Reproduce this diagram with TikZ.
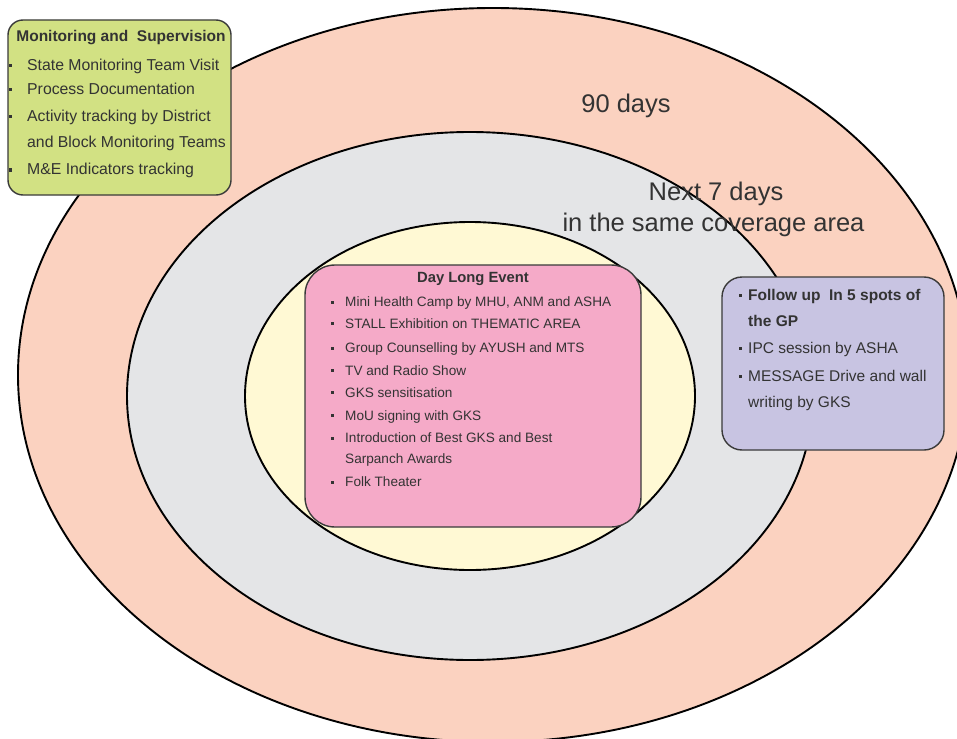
\documentclass[tikz,border=0pt]{standalone}
\usepackage{fontspec}
\setmainfont{Liberation Sans}
\definecolor{outerc}{HTML}{FBD2C0}
\definecolor{midc}{HTML}{E4E5E7}
\definecolor{innerc}{HTML}{FFF9D4}
\definecolor{greenc}{HTML}{D2E183}
\definecolor{pinkc}{HTML}{F5AAC8}
\definecolor{purplec}{HTML}{C8C4E2}
\definecolor{txt}{HTML}{333333}
\definecolor{edge}{HTML}{3A3A3A}
\tikzset{
  ring/.style={draw=black, line width=1.9pt},
  panel/.style={draw=edge, line width=1.4pt, inner sep=0pt},
  item/.style={inner sep=0pt, anchor=base west, text=txt},
  gtext/.style={item, font=\fontsize{15.8}{18}\selectfont},
  ptext/.style={item, font=\fontsize{13.6}{16}\selectfont},
  vtext/.style={item, font=\fontsize{15.5}{18}\selectfont},
  bigtext/.style={inner sep=0pt, anchor=base, text=txt, font=\fontsize{25.5}{30}\selectfont},
  dot/.style={fill=txt},
}
\begin{document}
\begin{tikzpicture}[x=1pt,y=-1pt]
\useasboundingbox (0,0) rectangle (957,738);
\clip (0,0) rectangle (957,738);
\fill[white] (0,0) rectangle (957,738);
% rings
\filldraw[ring, fill=outerc] (493,375) ellipse [x radius=475pt, y radius=367pt];
\filldraw[ring, fill=midc] (470,396) ellipse [x radius=343pt, y radius=264pt];
\filldraw[ring, fill=innerc] (470,396) ellipse [x radius=225pt, y radius=174pt];
% ring labels
\node[bigtext] (d90) at (626,113) {90 days};
\node[bigtext] (d7a) at (716,200) {Next 7 days};
\node[bigtext] (d7b) at (713.5,231) {in the same coverage area};
% green panel
\node[panel, fill=greenc, rounded corners=15pt, minimum width=223pt, minimum height=175pt] (mon) at (119.5,107.5) {};
\node[inner sep=0pt, anchor=base, text=txt, font=\bfseries\fontsize{15.5}{18}\selectfont] (mont) at (121,42) {Monitoring and\ \ Supervision};
\node[gtext] (m1) at (27,71) {State Monitoring Team Visit};
\node[gtext] (m2) at (27,95) {Process Documentation};
\node[gtext] (m3) at (27,122) {Activity tracking by District};
\node[gtext] (m4) at (27,148) {and Block Monitoring Teams};
\node[gtext] (m5) at (27,175) {M\&E Indicators tracking};
\foreach \y in {71,95,122,175} \fill[dot] (9,\y-6.5) rectangle (11.5,\y-3.5);
% pink panel
\node[panel, fill=pinkc, rounded corners=30pt, minimum width=336pt, minimum height=262pt] (day) at (473,396) {};
\node[inner sep=0pt, anchor=base, text=txt, font=\bfseries\fontsize{14.8}{18}\selectfont] (dayt) at (473,282) {Day Long Event};
\node[ptext] (p1) at (345,306.7) {Mini Health Camp by MHU, ANM and ASHA};
\node[ptext] (p2) at (345,328) {STALL Exhibition on THEMATIC AREA};
\node[ptext] (p3) at (345,352.5) {Group Counselling by AYUSH and MTS};
\node[ptext] (p4) at (345,375) {TV and Radio Show};
\node[ptext] (p5) at (345,397) {GKS sensitisation};
\node[ptext] (p6) at (345,420) {MoU signing with GKS};
\node[ptext] (p7) at (345,442.5) {Introduction of Best GKS and Best};
\node[ptext] (p8) at (345,463) {Sarpanch Awards};
\node[ptext] (p9) at (345,486.5) {Folk Theater};
\foreach \y in {306.7,328,352.5,375,397,420,442.5,486.5} \fill[dot] (330.5,\y-6) rectangle (333.5,\y-3);
% purple panel
\node[panel, fill=purplec, rounded corners=20pt, minimum width=222pt, minimum height=173pt] (fol) at (833,363.5) {};
\node[vtext, font=\bfseries\fontsize{15.5}{18}\selectfont] (f1) at (748,300) {Follow up\ \ In 5 spots of};
\node[vtext, font=\bfseries\fontsize{15.5}{18}\selectfont] (f2) at (748,326.7) {the GP};
\node[vtext] (f3) at (748,353) {IPC session by ASHA};
\node[vtext] (f4) at (748,381.5) {MESSAGE Drive and wall};
\node[vtext] (f5) at (748,407) {writing by GKS};
\foreach \y in {300,353,381.5} \fill[dot] (738.5,\y-6.5) rectangle (741.5,\y-3.5);
\end{tikzpicture}
\end{document}
